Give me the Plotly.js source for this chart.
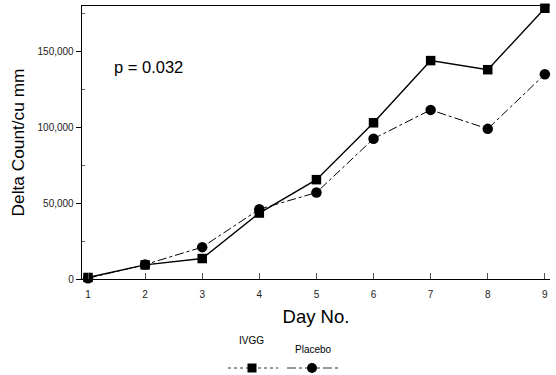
<!DOCTYPE html>
<html><head><meta charset="utf-8">
<script src="https://cdn.plot.ly/plotly-3.0.1.min.js"></script>
<style>html,body{margin:0;padding:0;background:#fff}#c{width:556px;height:375px}</style>
</head><body><div id="c"></div>
<script>
const days = [1,2,3,4,5,6,7,8,9];
const ivgg = [1000, 9300, 13500, 43500, 65500, 103000, 144000, 138000, 178500];
const placebo = [500, 9500, 21000, 46000, 57000, 92500, 111500, 99000, 135000];
const yTicks = [0, 50000, 100000, 150000];
const yTickText = ['0', '50,000', '100,000', '150,000'];
const seriesNames = ['IVGG', 'Placebo'];

const font = 'Liberation Sans, Arial, sans-serif';
const L = 82, R = 550, T = 6, B = 279;
const px = x => (x - L) / (R - L);
const py = y => (B - y) / (B - T);

const traces = [
  {x: days, y: ivgg, name: seriesNames[0], mode: 'lines+markers',
   line: {color: '#000', width: 1.4},
   marker: {symbol: 'square', size: 9.5, color: '#000'}, cliponaxis: false},
  {x: days, y: placebo, name: seriesNames[1], mode: 'lines+markers',
   line: {color: '#000', width: 1, dash: 'dashdot'},
   marker: {symbol: 'circle', size: 10.5, color: '#000'}, cliponaxis: false}
];

const layout = {
  width: 556, height: 375,
  margin: {l: L, r: 556 - R, t: T, b: 375 - B},
  paper_bgcolor: '#fff', plot_bgcolor: '#fff',
  showlegend: false,
  font: {family: font, color: '#000'},
  xaxis: {range: [0.895, 9.09], tickvals: days, ticks: 'inside', ticklen: 6, tickcolor: '#555',
    showgrid: false, zeroline: false, showline: true, linecolor: '#000', linewidth: 1.3,
    mirror: true, tickfont: {size: 10, color: '#222'}, ticklabelstandoff: 6,
    title: {text: 'Day No.', font: {size: 18.5}, standoff: 10}},
  yaxis: {range: [0, 180000], tickvals: yTicks, ticktext: yTickText, ticks: 'outside', ticklen: 5,
    tickcolor: '#000', showgrid: false, zeroline: false, showline: true, linecolor: '#000', linewidth: 1.3,
    tickfont: {size: 10, color: '#222'},
    minor: {tickvals: [25000, 75000, 125000, 175000], ticks: 'inside', ticklen: 3, tickcolor: '#666'},
    title: {text: 'Delta Count/cu mm', font: {size: 17.3}, standoff: 8}},
  annotations: [
    {xref: 'paper', yref: 'paper', x: px(112), y: py(67), xanchor: 'left', yanchor: 'middle',
     text: 'p = 0.032', showarrow: false, font: {size: 16.5}},
    {xref: 'paper', yref: 'paper', x: px(251), y: py(340), xanchor: 'center', yanchor: 'middle',
     text: seriesNames[0], showarrow: false, font: {size: 10}},
    {xref: 'paper', yref: 'paper', x: px(313), y: py(349), xanchor: 'center', yanchor: 'middle',
     text: seriesNames[1], showarrow: false, font: {size: 10}}
  ],
  shapes: [
    {type: 'line', xref: 'paper', yref: 'paper', x0: px(228), x1: px(278), y0: py(368), y1: py(368),
     line: {color: '#333', width: 1, dash: 'dot'}},
    {type: 'rect', xref: 'paper', yref: 'paper', xsizemode: 'pixel', ysizemode: 'pixel',
     xanchor: px(252), yanchor: py(368), x0: -4.5, x1: 4.5, y0: -4.5, y1: 4.5,
     fillcolor: '#000', line: {width: 0}},
    {type: 'line', xref: 'paper', yref: 'paper', x0: px(287), x1: px(338), y0: py(368), y1: py(368),
     line: {color: '#333', width: 1, dash: 'dashdot'}},
    {type: 'circle', xref: 'paper', yref: 'paper', xsizemode: 'pixel', ysizemode: 'pixel',
     xanchor: px(312), yanchor: py(368), x0: -5, x1: 5, y0: -5, y1: 5,
     fillcolor: '#000', line: {width: 0}}
  ]
};
Plotly.newPlot('c', traces, layout, {displayModeBar: false, staticPlot: true});
</script></body></html>
